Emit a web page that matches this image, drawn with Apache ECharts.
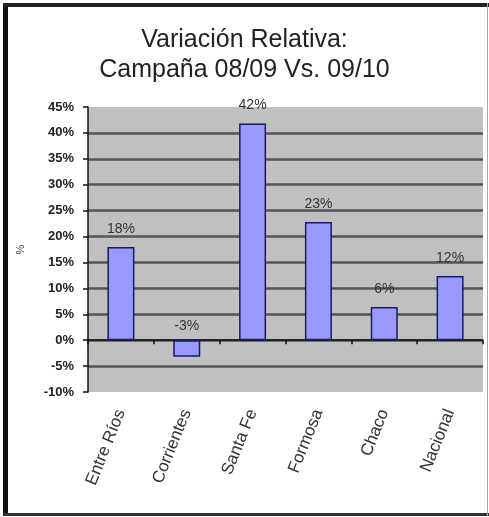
<!DOCTYPE html>
<html>
<head>
<meta charset="utf-8">
<script src="https://cdn.jsdelivr.net/npm/echarts@6/dist/echarts.min.js"></script>
<style>
html,body{margin:0;padding:0;background:#fff;}
#chart{width:489px;height:517px;}
</style>
</head>
<body>
<div id="chart"></div>
<script>
var titleLines = ['Variación Relativa:', 'Campaña 08/09 Vs. 09/10'];
var categories = ['Entre Ríos', 'Corrientes', 'Santa Fe', 'Formosa', 'Chaco', 'Nacional'];
var values = [18.0, -3.2, 41.8, 22.8, 6.4, 12.4];
var yMin = -10, yMax = 45, yStep = 5;
var yAxisName = '%';

var chart = echarts.init(document.getElementById('chart'), null, {renderer: 'canvas'});
var option = {
  animation: false,
  backgroundColor: '#fff',
  title: {
    text: titleLines.join('\n'),
    left: 'center',
    top: 20,
    textStyle: {fontFamily: 'Liberation Sans, Arial, sans-serif', fontSize: 25, fontWeight: 'normal', color: '#222', lineHeight: 30}
  },
  graphic: [
    {type: 'rect', shape: {x: 3, y: 3, width: 5, height: 513}, style: {fill: '#111'}, silent: true},
    {type: 'rect', shape: {x: 3, y: 3, width: 486, height: 4}, style: {fill: '#222'}, silent: true},
    {type: 'rect', shape: {x: 3, y: 513, width: 486, height: 3}, style: {fill: '#333'}, silent: true},
    {type: 'rect', shape: {x: 487, y: 3, width: 1, height: 513}, style: {fill: '#aaa'}, silent: true}
  ],
  grid: {left: 88, top: 107, right: 6, bottom: 125, show: true, backgroundColor: '#c0c0c0', borderWidth: 0, containLabel: false, outerBoundsMode: 'none'},
  xAxis: {
    type: 'category',
    data: categories,
    axisLine: {onZero: true, lineStyle: {color: '#111', width: 1.5}},
    axisTick: {show: true, length: 4, lineStyle: {color: '#111', width: 1.5}},
    axisLabel: {interval: 0, rotate: 68, margin: 18, fontFamily: 'Liberation Sans, Arial, sans-serif', fontSize: 17, color: '#333'},
    splitLine: {show: false}
  },
  yAxis: {
    type: 'value',
    min: yMin, max: yMax, interval: yStep,
    name: yAxisName,
    nameLocation: 'middle',
    nameGap: 62,
    nameRotate: 90,
    nameTextStyle: {fontFamily: 'Liberation Sans, Arial, sans-serif', fontSize: 11, color: '#444'},
    axisLine: {show: true, lineStyle: {color: '#111', width: 1.5}},
    axisTick: {show: true, length: 5, lineStyle: {color: '#111', width: 1.5}},
    axisLabel: {margin: 14, formatter: function (v) { return v + '%'; }, fontFamily: 'Liberation Sans, Arial, sans-serif', fontSize: 13, fontWeight: 'bold', color: '#222'},
    splitLine: {show: true, showMinLine: false, showMaxLine: false, lineStyle: {color: '#555', width: 2.5}}
  },
  series: [{
    type: 'bar',
    barWidth: '41%',
    data: values.map(function (v) {
      return {value: v, label: {distance: v < 0 ? 7 : 11}};
    }),
    itemStyle: {color: '#9999ff', borderColor: '#1a1a66', borderWidth: 1.5},
    label: {
      show: true,
      position: 'top',
      formatter: function (p) { return Math.round(p.value) + '%'; },
      fontFamily: 'Liberation Sans, Arial, sans-serif',
      fontSize: 14,
      color: '#333'
    }
  }]
};
chart.setOption(option);
</script>
</body>
</html>
